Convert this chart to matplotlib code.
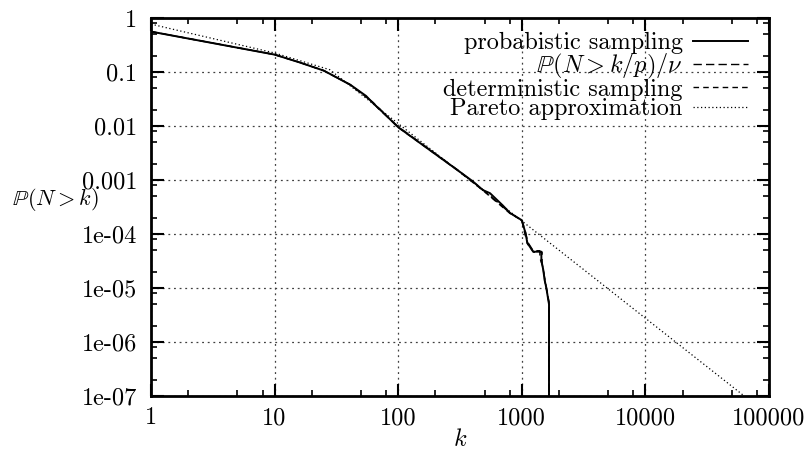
#!/usr/bin/env python3

'''
Tail distribution P(N > k) on log-log axes, gnuplot style.
'''

import numpy as np
import matplotlib
matplotlib.use('Agg')
import matplotlib.pyplot as pl
from matplotlib.ticker import FixedLocator, FixedFormatter, NullFormatter

pl.rcParams['font.family'] = ['cmr10', 'DejaVu Serif']
pl.rcParams['mathtext.fontset'] = 'cm'
pl.rcParams['axes.unicode_minus'] = False
pl.rcParams['axes.formatter.use_mathtext'] = True

fs = 17.5

# probabilistic sampling (solid)
k_prob = [1, 10, 16, 25, 41, 55, 62, 69, 75, 100, 159, 300, 400, 485, 553, 700,
          803, 1000, 1070, 1110, 1236, 1440, 1440, 1490, 1530, 1580, 1620, 1660, 1660]
p_prob = [0.56, 0.21, 0.15, 0.106, 0.058, 0.036, 0.027, 0.0215, 0.018, 0.0095,
          0.0044, 0.00154, 9.5e-4, 6.5e-4, 5.7e-4, 3.4e-4, 2.45e-4, 1.8e-4, 1.05e-4,
          6.8e-5, 4.7e-5, 4.7e-5, 3.2e-5, 2.2e-5, 1.4e-5, 1e-5, 7e-6, 5e-6, 1e-9]

# P(N > k/p)/nu (long dashes)
k_ratio = [1, 10, 16, 25, 41, 62, 69, 100, 159, 300, 485, 803, 1000, 1070, 1120,
           1236, 1400, 1400, 1470, 1520, 1570, 1620, 1660, 1660]
p_ratio = [0.56, 0.21, 0.15, 0.106, 0.058, 0.028, 0.021, 0.0097, 0.0045, 0.00156,
           6.6e-4, 2.45e-4, 1.8e-4, 1.1e-4, 7e-5, 4.9e-5, 4.9e-5, 3.6e-5, 2.6e-5,
           1.7e-5, 1.1e-5, 7.5e-6, 5.5e-6, 1e-9]

# deterministic sampling (short dashes)
k_det = [1, 10, 16, 25, 41, 62, 69, 100, 159, 300, 485, 803, 1000, 1060, 1110,
         1250, 1460, 1460, 1500, 1540, 1590, 1630, 1665, 1665]
p_det = [0.56, 0.21, 0.15, 0.106, 0.058, 0.028, 0.022, 0.0094, 0.0044, 0.00153,
         6.4e-4, 2.4e-4, 1.8e-4, 1.0e-4, 6.6e-5, 4.6e-5, 4.6e-5, 3.0e-5, 2.0e-5,
         1.3e-5, 9e-6, 6.5e-6, 5e-6, 1e-9]

# Pareto approximation (dotted)
k_par = [1, 10, 28, 63000]
p_par = [0.77, 0.225, 0.11, 1e-7]

xticks = [1, 10, 100, 1000, 10000, 100000]
xticklabels = ['1', '10', '100', '1000', '10000', '100000']
yticks = [1, 0.1, 0.01, 0.001, 1e-4, 1e-5, 1e-6, 1e-7]
yticklabels = ['1', '0.1', '0.01', '0.001', '1e-04', '1e-05', '1e-06', '1e-07']

fig = pl.figure(figsize=(8.09, 4.57), dpi=100)
W, H = 809., 457.
ax = fig.add_axes([151/W, 1-396/H, (769-151)/W, (396-18)/H])

ax.plot(k_prob, p_prob, color='black', lw=1.4, ls='-', label='probabistic sampling')
ax.plot(k_ratio, p_ratio, color='black', lw=1.0, ls=(0, (6, 3)),
        label=r'$\mathbb{P}(N > k/p)/\nu$')
ax.plot(k_det, p_det, color='black', lw=1.0, ls=(0, (4, 3)),
        label='deterministic sampling')
ax.plot(k_par, p_par, color='black', lw=0.9, ls=(0, (1, 2)),
        label='Pareto approximation')

ax.set_xscale('log')
ax.set_yscale('log')
ax.set_xlim(1, 100000)
ax.set_ylim(1e-7, 1)

ax.xaxis.set_major_locator(FixedLocator(xticks))
ax.xaxis.set_major_formatter(FixedFormatter(xticklabels))
ax.yaxis.set_major_locator(FixedLocator(yticks))
ax.yaxis.set_major_formatter(FixedFormatter(yticklabels))
xminor = [m*10.**e for e in range(0, 5) for m in (2, 5, 8)]
yminor = [m*10.**e for e in range(-7, 0) for m in (2, 5, 8)]
ax.xaxis.set_minor_locator(FixedLocator(xminor))
ax.yaxis.set_minor_locator(FixedLocator(yminor))
ax.xaxis.set_minor_formatter(NullFormatter())
ax.yaxis.set_minor_formatter(NullFormatter())

ax.tick_params(which='both', direction='in', top=True, right=True, labelsize=fs)
ax.tick_params(which='major', length=9, width=1.5)
ax.tick_params(which='minor', length=4.5, width=1.2)
ax.tick_params(axis='x', which='major', pad=8)
ax.tick_params(axis='y', which='major', pad=10)
for s in ax.spines.values():
    s.set_linewidth(2)

ax.grid(which='major', color='0.25', lw=0.9, ls=(0, (1.5, 3)))

ax.legend(loc='upper right', frameon=False, markerfirst=False, fontsize=fs,
          handlelength=2.26, handletextpad=0.42, labelspacing=-0.1,
          borderaxespad=0, borderpad=0,
          bbox_to_anchor=(748/W, 1-32/H), bbox_transform=fig.transFigure)

# y label sits left of the tick labels, as gnuplot puts it
fig.text(12/W, 1-205/H, r'$\mathbb{P}(N > k)$', fontsize=16, ha='left', va='baseline')
fig.text(460/W, 1-440/H, r'$k$', fontsize=fs, ha='center', va='center')

pl.savefig('out.png', dpi=100)
